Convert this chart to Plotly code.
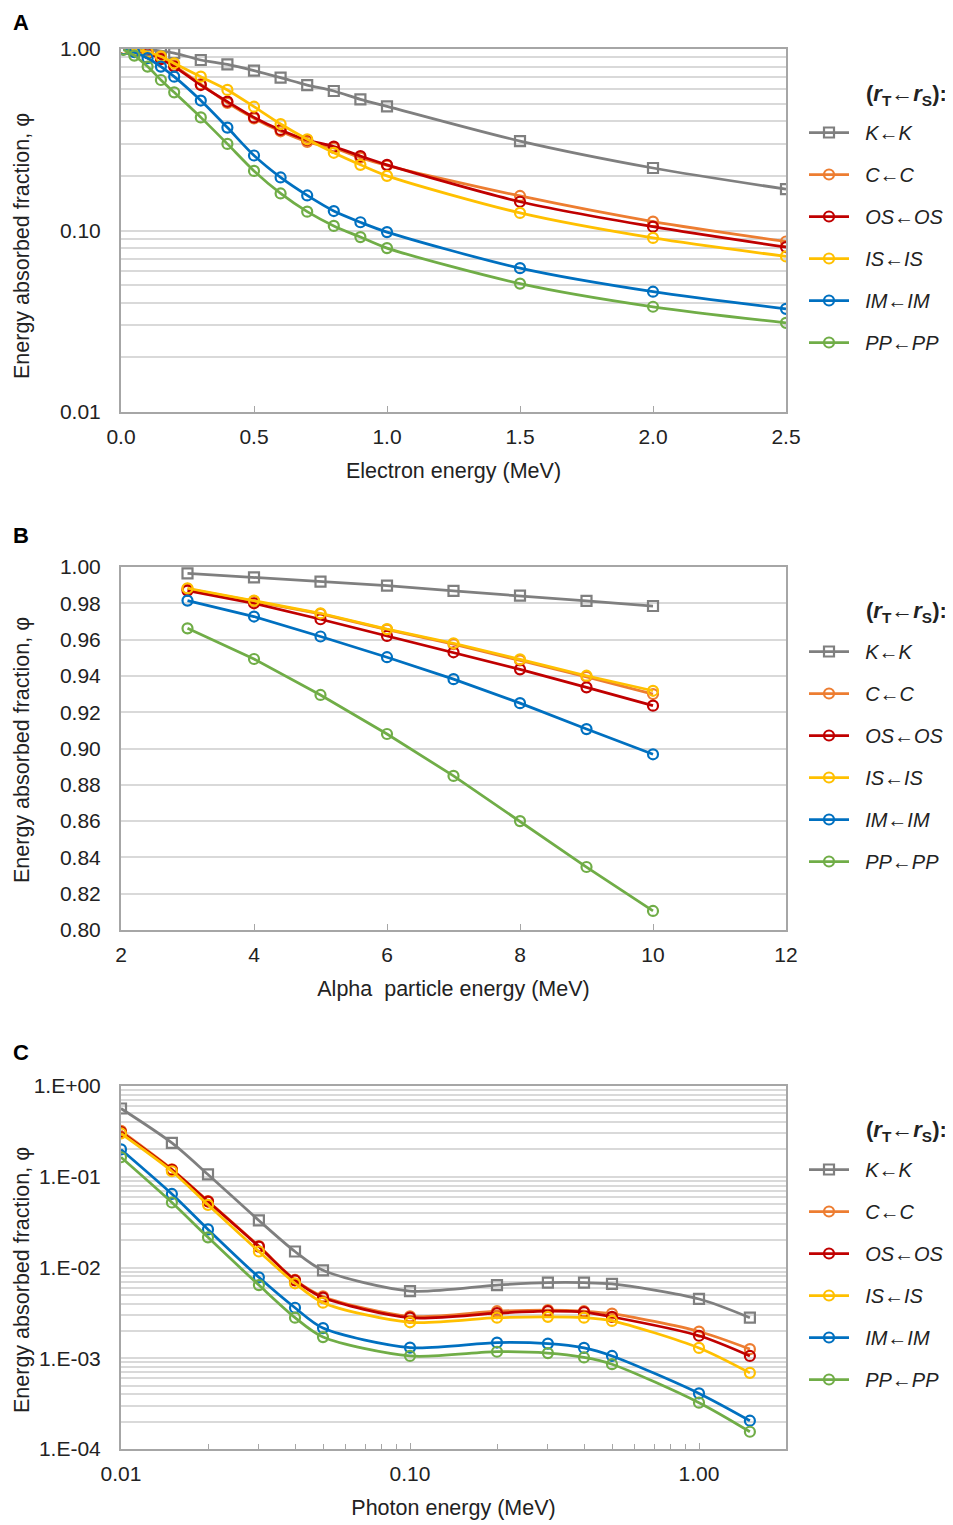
import plotly.graph_objects as go

# ---------------- DATA ----------------
series_names = ["K←K", "C←C", "OS←OS", "IS←IS", "IM←IM", "PP←PP"]
series_colors = ["#7F7F7F", "#ED7D31", "#C00000", "#FFC000", "#0070C0", "#70AD47"]
series_symbols = ["square-open", "circle-open", "circle-open", "circle-open", "circle-open", "circle-open"]

# Panel A: electrons
a_energy = [0.01, 0.05, 0.1, 0.15, 0.2, 0.3, 0.4, 0.5, 0.6, 0.7, 0.8, 0.9, 1.0, 1.5, 2.0, 2.5]
a_K = [1.00, 0.995, 0.99, 0.975, 0.95, 0.87, 0.823, 0.76, 0.695, 0.633, 0.587, 0.528, 0.483, 0.311, 0.221, 0.169]
a_C = [1.00, 0.985, 0.95, 0.89, 0.81, 0.64, 0.505, 0.415, 0.352, 0.308, 0.285, 0.252, 0.228, 0.155, 0.112, 0.087]
a_OS = [1.00, 0.985, 0.95, 0.88, 0.80, 0.633, 0.513, 0.42, 0.358, 0.315, 0.29, 0.257, 0.23, 0.144, 0.105, 0.081]
a_IS = [1.00, 0.99, 0.96, 0.91, 0.834, 0.704, 0.595, 0.481, 0.386, 0.318, 0.268, 0.230, 0.200, 0.125, 0.091, 0.072]
a_IM = [0.995, 0.96, 0.89, 0.80, 0.704, 0.52, 0.369, 0.259, 0.196, 0.156, 0.128, 0.111, 0.098, 0.062, 0.046, 0.037]
a_PP = [0.99, 0.92, 0.80, 0.675, 0.577, 0.42, 0.30, 0.213, 0.16, 0.127, 0.106, 0.092, 0.080, 0.051, 0.038, 0.031]

# Panel B: alpha particles
b_energy = [3, 4, 5, 6, 7, 8, 9, 10]
b_K = [0.9965, 0.9943, 0.9919, 0.9897, 0.9868, 0.9842, 0.9813, 0.9785]
b_C = [0.9880, 0.9812, 0.9742, 0.9655, 0.9575, 0.9485, 0.9395, 0.9300]
b_OS = [0.9870, 0.9800, 0.9712, 0.9620, 0.9530, 0.9436, 0.9337, 0.9236]
b_IS = [0.9883, 0.9815, 0.9745, 0.9658, 0.9580, 0.9491, 0.9401, 0.9318]
b_IM = [0.9815, 0.9727, 0.9617, 0.9503, 0.9382, 0.9250, 0.9107, 0.8968]
b_PP = [0.9662, 0.9493, 0.9295, 0.9080, 0.8849, 0.8600, 0.8347, 0.8105]

# Panel C: photons
c_energy = [0.01, 0.015, 0.02, 0.03, 0.04, 0.05, 0.1, 0.2, 0.3, 0.4, 0.5, 1.0, 1.5]
c_K = [0.565, 0.236, 0.106, 0.0330, 0.0150, 0.0093, 0.0055, 0.0064, 0.0068, 0.0068, 0.0066, 0.0045, 0.0028]
c_C = [0.32, 0.121, 0.054, 0.0172, 0.0073, 0.0048, 0.0029, 0.0033, 0.0034, 0.0033, 0.0031, 0.00197, 0.00126]
c_OS = [0.31, 0.119, 0.0533, 0.0170, 0.0072, 0.00466, 0.0028, 0.00314, 0.0033, 0.00322, 0.00286, 0.00177, 0.00106]
c_IS = [0.30, 0.115, 0.049, 0.0150, 0.0067, 0.0041, 0.00249, 0.0028, 0.00286, 0.0028, 0.00258, 0.0013, 0.00069]
c_IM = [0.20, 0.0646, 0.0263, 0.0078, 0.0036, 0.00215, 0.00131, 0.00149, 0.00145, 0.0013, 0.00106, 0.00041, 0.000205]
c_PP = [0.164, 0.052, 0.0215, 0.0064, 0.0028, 0.00171, 0.00106, 0.00118, 0.00114, 0.00102, 0.00086, 0.000324, 0.000155]

a_ytickvals = [0.01, 0.1, 1.0]
a_yticktext = ["0.01", "0.10", "1.00"]
c_xtickvals = [0.01, 0.1, 1.0]
c_xticktext = ["0.01", "0.10", "1.00"]
c_ytickvals = [1e-4, 1e-3, 1e-2, 1e-1, 1.0]
c_yticktext = ["1.E-04", "1.E-03", "1.E-02", "1.E-01", "1.E+00"]

panel_labels = ["A", "B", "C"]
x_titles = ["Electron energy (MeV)", "Alpha  particle energy (MeV)", "Photon energy (MeV)"]
y_title = "Energy absorbed fraction, φ"
legend_title = "<b>(<i>r</i><sub>T</sub>←<i>r</i><sub>S</sub>):</b>"

# ---------------- LAYOUT HELPERS ----------------
OFF = 8  # page body margin
W, H = 953 - OFF, 1525 - OFF
ML = 121 - OFF
MT = 49 - OFF
MR = W - (786 - OFF)
MB = H - (1449 - OFF)
PW, PH = W - ML - MR, H - MT - MB


def px_x(px):
    return (px - OFF - ML) / PW


def px_y(py):
    return (H - MB - (py - OFF)) / PH


FONT = "Arial, Liberation Sans, sans-serif"
AXIS_COL = "#A6A6A6"
GRID_COL = "#D9D9D9"
TXT = "#222"

fig = go.Figure()

panels = [
    (a_energy, [a_K, a_C, a_OS, a_IS, a_IM, a_PP], "x", "y", "legend", "spline"),
    (b_energy, [b_K, b_C, b_OS, b_IS, b_IM, b_PP], "x2", "y2", "legend2", "linear"),
    (c_energy, [c_K, c_C, c_OS, c_IS, c_IM, c_PP], "x3", "y3", "legend3", "spline"),
]

for pi, (xs, ys_list, xa, ya, lg, shape) in enumerate(panels):
    for si, ys in enumerate(ys_list):
        fig.add_trace(go.Scatter(
            x=xs, y=ys, xaxis=xa, yaxis=ya, legend=lg,
            name="\u00a0\u00a0<i>" + series_names[si] + "</i>",
            legendgroup=f"p{pi}s{si}",
            mode="lines+markers",
            line=dict(color=series_colors[si], width=2.75, shape=shape, smoothing=0.8),
            marker=dict(symbol=series_symbols[si], size=10,
                        color=series_colors[si], line=dict(width=2.2, color=series_colors[si])),
        ))

domains = [
    [px_y(412), px_y(49)],
    [px_y(930), px_y(567)],
    [px_y(1449), px_y(1086)],
]

base_axis = dict(showline=True, linecolor=AXIS_COL, linewidth=2, mirror=True,
                 tickfont=dict(family=FONT, size=21, color=TXT),
                 zeroline=False, automargin=False)
title_font = dict(family=FONT, size=21.5, color=TXT)

minor_a_y = [m * 10 ** e for e in (-2, -1) for m in range(2, 10)]
minor_c_y = [m * 10 ** e for e in (-4, -3, -2, -1) for m in range(2, 10)]
minor_c_x = [m * 10 ** e for e in (-2, -1) for m in range(2, 10)] + [2.0]

fig.update_layout(
    width=W, height=H,
    margin=dict(l=ML, r=MR, t=MT, b=MB, autoexpand=False),
    paper_bgcolor="white", plot_bgcolor="white",
    font=dict(family=FONT, size=21, color=TXT),
    # Panel A
    xaxis=dict(**base_axis, domain=[0, 1], anchor="y", range=[0, 2.5], dtick=0.5, tickformat=".1f",
               showgrid=False, ticks="inside", ticklen=6, tickcolor=AXIS_COL, ticklabelstandoff=5,
               title=dict(text=x_titles[0], font=title_font, standoff=16)),
    yaxis=dict(**base_axis, domain=domains[0], anchor="x", type="log", range=[-2, 0],
               tickvals=a_ytickvals, ticktext=a_yticktext, showgrid=True, gridcolor=GRID_COL, gridwidth=1.5,
               ticklabelstandoff=14,
               minor=dict(tickvals=minor_a_y, showgrid=True, gridcolor=GRID_COL, gridwidth=1.5)),
    # Panel B
    xaxis2=dict(**base_axis, domain=[0, 1], anchor="y2", range=[2, 12], dtick=2,
                showgrid=False, ticks="inside", ticklen=6, tickcolor=AXIS_COL, ticklabelstandoff=5,
                title=dict(text=x_titles[1], font=title_font, standoff=16)),
    yaxis2=dict(**base_axis, domain=domains[1], anchor="x2", range=[0.80, 1.00], dtick=0.02, tickformat=".2f",
                showgrid=True, gridcolor=GRID_COL, gridwidth=1.5, ticklabelstandoff=14),
    # Panel C
    xaxis3=dict(**base_axis, domain=[0, 1], anchor="y3", type="log", range=[-2, 0.30103],
                tickvals=c_xtickvals, ticktext=c_xticktext, showgrid=False,
                ticks="inside", ticklen=6, tickcolor=AXIS_COL, ticklabelstandoff=5,
                minor=dict(tickvals=minor_c_x, ticks="inside", ticklen=5, tickcolor=AXIS_COL, showgrid=False),
                title=dict(text=x_titles[2], font=title_font, standoff=16)),
    yaxis3=dict(**base_axis, domain=domains[2], anchor="x3", type="log", range=[-4, 0],
                tickvals=c_ytickvals, ticktext=c_yticktext, showgrid=True, gridcolor=GRID_COL, gridwidth=1.5,
                ticklabelstandoff=14,
                minor=dict(tickvals=minor_c_y, showgrid=True, gridcolor=GRID_COL, gridwidth=1.5)),
)

legend_tops = [113, 632, 1150]
for i, lg in enumerate(["legend", "legend2", "legend3"]):
    fig.update_layout({lg: dict(
        x=px_x(804), y=px_y(legend_tops[i]), xanchor="left", yanchor="top",
        xref="paper", yref="paper",
        font=dict(family=FONT, size=20, color=TXT),
        bgcolor="rgba(0,0,0,0)", tracegroupgap=13, itemwidth=40,
        traceorder="grouped",
    )})

annotations = []
label_y = [8.5, 535, 1052]
label_anchor = ["top", "middle", "middle"]
title_y = [95, 612, 1131]
ytitle_y = [246, 750, 1280]
for i in range(3):
    annotations.append(dict(text="<b>" + panel_labels[i] + "</b>", x=px_x(12), y=px_y(label_y[i]),
                            xref="paper", yref="paper", xanchor="left", yanchor=label_anchor[i],
                            borderpad=0, showarrow=False, font=dict(family=FONT, size=22, color="#000")))
    annotations.append(dict(text=legend_title, x=px_x(864), y=px_y(title_y[i]),
                            xref="paper", yref="paper", xanchor="left", yanchor="middle",
                            showarrow=False, font=dict(family=FONT, size=22, color=TXT)))
    annotations.append(dict(text=y_title, x=px_x(22), y=px_y(ytitle_y[i]), textangle=-90,
                            xref="paper", yref="paper", xanchor="center", yanchor="middle",
                            showarrow=False, font=title_font))
fig.update_layout(annotations=annotations)

fig.write_html("out.html")
